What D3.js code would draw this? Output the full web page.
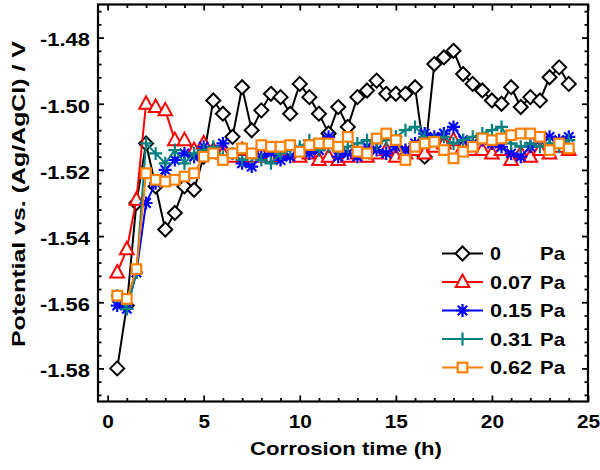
<!DOCTYPE html>
<html><head><meta charset="utf-8">
<script src="https://cdn.jsdelivr.net/npm/d3@7"></script>
<style>body{margin:0;background:#fff}svg{display:block}</style>
</head><body>
<svg id="c" width="600" height="470"></svg>
<script>
const times = [0.5,1,1.5,2,2.5,3,3.5,4,4.5,5,5.5,6,6.5,7,7.5,8,8.5,9,9.5,10,10.5,11,11.5,12,12.5,13,13.5,14,14.5,15,15.5,16,16.5,17,17.5,18,18.5,19,19.5,20,20.5,21,21.5,22,22.5,23,23.5,24];
const pa0 = [-1.580,-1.561,-1.530,-1.512,-1.525,-1.538,-1.533,-1.525,-1.526,-1.516,-1.499,-1.503,-1.510,-1.495,-1.508,-1.502,-1.497,-1.498,-1.503,-1.494,-1.498,-1.503,-1.509,-1.501,-1.507,-1.498,-1.496,-1.493,-1.497,-1.497,-1.497,-1.495,-1.516,-1.488,-1.486,-1.484,-1.491,-1.494,-1.496,-1.499,-1.500,-1.495,-1.501,-1.498,-1.499,-1.492,-1.489,-1.494];
const pa007 = [-1.551,-1.544,-1.529,-1.500,-1.501,-1.502,-1.511,-1.511,-1.514,-1.512,-1.514,-1.515,-1.516,-1.514,-1.516,-1.515,-1.516,-1.515,-1.514,-1.516,-1.515,-1.517,-1.516,-1.517,-1.516,-1.515,-1.516,-1.515,-1.514,-1.516,-1.515,-1.514,-1.515,-1.513,-1.512,-1.511,-1.513,-1.514,-1.514,-1.515,-1.514,-1.517,-1.515,-1.516,-1.514,-1.515,-1.513,-1.514];
const pa015 = [-1.561,-1.562,-1.551,-1.530,-1.524,-1.520,-1.517,-1.515,-1.516,-1.513,-1.514,-1.512,-1.515,-1.518,-1.519,-1.516,-1.515,-1.517,-1.516,-1.514,-1.515,-1.514,-1.510,-1.516,-1.515,-1.516,-1.513,-1.514,-1.515,-1.513,-1.514,-1.512,-1.509,-1.510,-1.509,-1.507,-1.511,-1.512,-1.511,-1.512,-1.513,-1.515,-1.516,-1.513,-1.511,-1.510,-1.511,-1.510];
const pa031 = [-1.558,-1.562,-1.551,-1.512,-1.515,-1.518,-1.514,-1.518,-1.515,-1.514,-1.513,-1.516,-1.515,-1.517,-1.516,-1.517,-1.518,-1.515,-1.514,-1.513,-1.511,-1.514,-1.513,-1.514,-1.513,-1.512,-1.511,-1.512,-1.511,-1.510,-1.508,-1.507,-1.510,-1.511,-1.510,-1.512,-1.511,-1.510,-1.509,-1.508,-1.507,-1.512,-1.513,-1.512,-1.513,-1.512,-1.513,-1.511];
const pa062 = [-1.558,-1.559,-1.550,-1.521,-1.523,-1.5235,-1.523,-1.522,-1.521,-1.516,-1.515,-1.517,-1.515,-1.5135,-1.515,-1.5125,-1.513,-1.513,-1.5125,-1.5145,-1.5125,-1.512,-1.512,-1.513,-1.510,-1.5145,-1.515,-1.5105,-1.509,-1.511,-1.517,-1.513,-1.512,-1.5115,-1.514,-1.5165,-1.5145,-1.513,-1.5105,-1.511,-1.5105,-1.5095,-1.509,-1.509,-1.510,-1.514,-1.512,-1.5135];
const seriesLabels = ["0","0.07","0.15","0.31","0.62"];
const seriesColors = ["#000000","#ff0000","#0000ff","#008080","#ff8000"];
const seriesMarkers = ["diamond","triangle","asterisk","plus","square"];
const xTicks = [0,5,10,15,20,25];
const yTicks = [-1.58,-1.56,-1.54,-1.52,-1.50,-1.48];
const xMinor = [1,2,3,4,6,7,8,9,11,12,13,14,16,17,18,19,21,22,23,24];
const yMinor = [-1.588,-1.584,-1.576,-1.572,-1.568,-1.564,-1.556,-1.552,-1.548,-1.544,-1.536,-1.532,-1.528,-1.524,-1.516,-1.512,-1.508,-1.504,-1.496,-1.492,-1.488,-1.484,-1.476,-1.472];
const allSeries = [pa0,pa007,pa015,pa031,pa062];

const FONT = "'Liberation Sans', Arial, sans-serif";
const svg = d3.select("#c");
const L = 98, R = 588, T = 4.5, B = 401.5;
const x = d3.scaleLinear().domain([-0.5,25]).range([L,R]);
const y = d3.scaleLinear().domain([-1.59,-1.47]).range([B,T]);

function styleAxis(g){ g.select(".domain").remove(); g.selectAll("line").attr("stroke","#000").attr("stroke-width",1.8); }
const gx = svg.append("g").attr("transform",`translate(0,${B})`)
  .call(d3.axisBottom(x).tickValues(xTicks).tickSize(-6).tickPadding(14).tickFormat(d3.format("d")));
styleAxis(gx);
gx.selectAll("text").attr("font-family",FONT).attr("font-weight","bold").attr("font-size",17.5).attr("fill","#000")
  .attr("textLength",d=>String(d).length*11.6).attr("lengthAdjust","spacingAndGlyphs");
svg.append("g").attr("transform",`translate(0,${B})`).call(d3.axisBottom(x).tickValues(xMinor).tickSize(-3.5).tickFormat("")).call(styleAxis);
svg.append("g").attr("transform",`translate(0,${T})`).call(d3.axisTop(x).tickValues(xTicks).tickSize(-6).tickFormat("")).call(styleAxis);
svg.append("g").attr("transform",`translate(0,${T})`).call(d3.axisTop(x).tickValues(xMinor).tickSize(-3.5).tickFormat("")).call(styleAxis);

const gy = svg.append("g").attr("transform",`translate(${L},0)`)
  .call(d3.axisLeft(y).tickValues(yTicks).tickSize(-6).tickPadding(8).tickFormat(d3.format(".2f")));
styleAxis(gy);
gy.selectAll("text").attr("font-family",FONT).attr("font-weight","bold").attr("font-size",18.5).attr("fill","#000")
  .attr("dy","0.45em").attr("textLength",50).attr("lengthAdjust","spacingAndGlyphs")
  .text(d=>d3.format(".2f")(d).replace("\u2212","-"));
svg.append("g").attr("transform",`translate(${L},0)`).call(d3.axisLeft(y).tickValues(yMinor).tickSize(-3.5).tickFormat("")).call(styleAxis);
svg.append("g").attr("transform",`translate(${R},0)`).call(d3.axisRight(y).tickValues(yTicks).tickSize(-6).tickFormat("")).call(styleAxis);
svg.append("g").attr("transform",`translate(${R},0)`).call(d3.axisRight(y).tickValues(yMinor).tickSize(-3.5).tickFormat("")).call(styleAxis);

svg.append("rect").attr("x",L).attr("y",T).attr("width",R-L).attr("height",B-T)
  .attr("fill","none").attr("stroke","#000").attr("stroke-width",2.2);

svg.append("text").attr("x",346).attr("y",455).attr("text-anchor","middle")
  .attr("font-family",FONT).attr("font-weight","bold").attr("font-size",18.5)
  .attr("textLength",192).attr("lengthAdjust","spacingAndGlyphs").text("Corrosion time (h)");
svg.append("text").attr("transform",`translate(25,194) rotate(-90)`).attr("text-anchor","middle")
  .attr("font-family",FONT).attr("font-weight","bold").attr("font-size",19)
  .attr("textLength",306).attr("lengthAdjust","spacingAndGlyphs").text("Potential vs. (Ag/AgCl) / V");

function drawMarker(g, type, color, cx, cy){
  if(type==="diamond"){
    g.append("path").attr("d",`M${cx},${cy-7}L${cx+7},${cy}L${cx},${cy+7}L${cx-7},${cy}Z`)
      .attr("fill","#fff").attr("stroke",color).attr("stroke-width",2);
  } else if(type==="triangle"){
    g.append("path").attr("d",`M${cx},${cy-7.5}L${cx+6.8},${cy+5}L${cx-6.8},${cy+5}Z`)
      .attr("fill","#fff").attr("stroke",color).attr("stroke-width",2);
  } else if(type==="square"){
    g.append("rect").attr("x",cx-4.8).attr("y",cy-4.8).attr("width",9.6).attr("height",9.6)
      .attr("fill","#fff").attr("stroke",color).attr("stroke-width",2.2);
  } else if(type==="asterisk"){
    const r=6.5, d=r*0.72;
    g.append("path").attr("d",`M${cx-r},${cy}L${cx+r},${cy}M${cx},${cy-r}L${cx},${cy+r}M${cx-d},${cy-d}L${cx+d},${cy+d}M${cx-d},${cy+d}L${cx+d},${cy-d}`)
      .attr("stroke",color).attr("stroke-width",2.2).attr("fill","none");
  } else if(type==="plus"){
    const r=6.5;
    g.append("path").attr("d",`M${cx-r},${cy}L${cx+r},${cy}M${cx},${cy-r}L${cx},${cy+r}`)
      .attr("stroke",color).attr("stroke-width",2.2).attr("fill","none");
  }
}

const line = d3.line().x((d,i)=>x(times[i])).y(d=>y(d));
const plot = svg.append("g");
allSeries.forEach((s,k)=>{
  const g = plot.append("g");
  g.append("path").datum(s).attr("d",line).attr("fill","none").attr("stroke",seriesColors[k]).attr("stroke-width",2);
  s.forEach((v,i)=>drawMarker(g, seriesMarkers[k], seriesColors[k], x(times[i]), y(v)));
});

const legY = [253.5,282,310.5,339,367.5];
seriesLabels.forEach((lab,k)=>{
  const g = svg.append("g");
  const yy = legY[k];
  g.append("line").attr("x1",442).attr("x2",483).attr("y1",yy).attr("y2",yy).attr("stroke",seriesColors[k]).attr("stroke-width",2);
  drawMarker(g, seriesMarkers[k], seriesColors[k], 462.5, yy);
  g.append("text").attr("x",490).attr("y",yy+6.6).attr("font-family",FONT).attr("font-weight","bold").attr("font-size",18.5)
    .attr("textLength",lab.length===1?11:42).attr("lengthAdjust","spacingAndGlyphs").text(lab);
  g.append("text").attr("x",540).attr("y",yy+6.6).attr("font-family",FONT).attr("font-weight","bold").attr("font-size",18.5)
    .attr("textLength",25).attr("lengthAdjust","spacingAndGlyphs").text("Pa");
});
</script>
</body></html>
